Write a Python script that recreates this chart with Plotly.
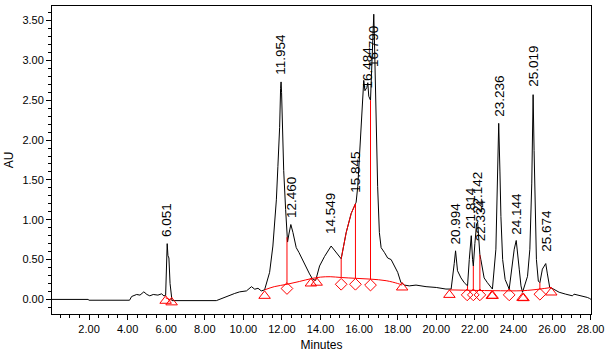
import plotly.graph_objects as go

# ---- chromatogram trace (minutes, AU) ----
trace_t = [0.08, 1.95, 2.0, 4.1, 4.21, 4.47, 4.64, 4.84, 5.0, 5.15, 5.33, 5.57, 5.76, 5.88, 5.97,
           6.02, 6.051, 6.09, 6.14, 6.2, 6.26, 6.3, 8.6, 9.03, 9.3, 9.55, 9.81, 10.16, 10.42,
           10.59, 10.76, 10.93, 11.1, 11.36, 11.53, 11.71, 11.79, 11.88, 11.93, 11.954, 11.98,
           12.02, 12.09, 12.19, 12.26, 12.29, 12.36, 12.46, 12.57, 12.74, 12.88, 13.09, 13.26,
           13.43, 13.6, 13.75, 13.95, 14.21, 14.549, 14.81, 15.07, 15.33, 15.59, 15.81, 15.845,
           15.93, 16.05, 16.16, 16.24, 16.3, 16.4, 16.45, 16.5, 16.59, 16.66, 16.72, 16.76,
           16.79, 16.82, 16.88, 16.96, 17.05, 17.14, 17.31, 17.48, 17.66, 17.83, 18.0, 18.17,
           18.35, 18.6, 18.95, 19.47, 20.0, 20.5, 20.77, 20.93, 21.0, 21.1, 21.28, 21.45, 21.62,
           21.71, 21.76, 21.814, 21.88, 21.92, 22.0, 22.09, 22.142, 22.2, 22.26, 22.31, 22.48,
           22.65, 22.91, 23.09, 23.16, 23.236, 23.3, 23.35, 23.44, 23.57, 23.78, 23.95, 24.04,
           24.144, 24.2, 24.3, 24.39, 24.47, 24.73, 24.85, 24.95, 25.019, 25.07, 25.12, 25.19,
           25.29, 25.37, 25.5, 25.674, 25.76, 25.88, 26.0, 26.37, 26.71, 27.06, 27.14, 27.57,
           27.83, 27.95, 28.02]
trace_au = [0.0, 0.0, -0.01, -0.01, 0.037, 0.062, 0.054, 0.095, 0.062, 0.045, 0.062, 0.054, 0.07, 0.045, 0.05,
            0.5, 0.70, 0.55, 0.52, 0.2, 0.0, -0.015, -0.015, 0.03, 0.05, 0.075, 0.095, 0.107, 0.16,
            0.128, 0.14, 0.107, 0.12, 0.34, 0.67, 1.25, 1.67, 2.16, 2.65, 2.73, 2.6,
            2.16, 1.62, 1.13, 0.8, 0.72, 0.82, 0.94, 0.84, 0.65, 0.59, 0.48, 0.40,
            0.32, 0.25, 0.24, 0.42, 0.54, 0.67, 0.59, 0.51, 0.84, 1.08, 1.2, 1.22,
            1.42, 2.0, 2.5, 2.75, 2.62, 2.66, 2.72, 2.55, 2.5, 3.0, 3.45, 3.58,
            3.3, 2.9, 2.08, 1.42, 0.84, 0.65, 0.59, 0.52, 0.50, 0.42, 0.34, 0.21,
            0.18, 0.17, 0.18, 0.16, 0.15, 0.13, 0.13, 0.45, 0.61, 0.36, 0.27, 0.21, 0.17,
            0.50, 0.69, 0.80, 0.50, 0.42, 0.7, 0.95, 0.97, 0.7, 0.56, 0.50, 0.27,
            0.21, 0.13, 0.63, 1.46, 2.21, 1.6, 1.04, 0.50, 0.25, 0.13, 0.50, 0.63,
            0.74, 0.63, 0.38, 0.17, 0.09, 0.29, 0.63, 1.46, 2.57, 1.87, 1.04, 0.50,
            0.23, 0.21, 0.38, 0.45, 0.32, 0.15, 0.14, 0.09, 0.066, 0.045, 0.066, 0.045,
            0.025, 0.012, 0.0]

# ---- integration baselines (red) ----
base1_t = [5.97, 6.28]
base1_au = [0.02, -0.01]
base2_t = [11.1, 11.6, 12.26, 12.9, 13.5, 14.0, 14.5, 15.07, 15.81, 16.59, 17.4, 18.0, 18.23]
base2_au = [0.12, 0.16, 0.19, 0.225, 0.26, 0.28, 0.285, 0.275, 0.265, 0.255, 0.235, 0.2, 0.18]
base3_t = [20.68, 22.9, 24.5, 25.37, 25.96]
base3_au = [0.12, 0.11, 0.11, 0.13, 0.15]

# ---- drop lines: time, baseline AU, signal AU ----
drop_t = [12.26, 15.07, 15.81, 16.59, 21.62, 21.92, 22.26, 23.78, 25.37]
drop_lo = [0.19, 0.275, 0.265, 0.255, 0.12, 0.115, 0.115, 0.11, 0.13]
drop_hi = [0.78, 0.51, 1.2, 2.5, 0.17, 0.42, 0.56, 0.13, 0.21]

# ---- red skimmed segment of the signal ----
skim_start, skim_end = 15.07, 15.81

# ---- peak start/end markers ----
tri_t = [5.97, 6.28, 11.1, 13.5, 13.8, 18.23, 20.68, 22.88, 22.92, 24.47, 24.52, 25.96]
tri_au = [-0.017, -0.037, 0.045, 0.2, 0.21, 0.15, 0.057, 0.045, 0.045, 0.02, 0.016, 0.087]
dia_t = [12.26, 15.07, 15.81, 16.59, 21.6, 21.92, 22.26, 23.78, 25.37]
dia_au = [0.137, 0.19, 0.19, 0.18, 0.057, 0.057, 0.057, 0.057, 0.065]

# ---- peak labels ----
peak_names = ["6.051", "11.954", "12.460", "14.549", "15.845", "16.484", "16.790", "20.994",
              "21.814", "22.142", "22.334", "23.236", "24.144", "25.019", "25.674"]
peak_t = [6.051, 11.954, 12.46, 14.549, 15.8, 16.45, 16.74, 20.994,
          21.8, 22.142, 22.334, 23.236, 24.144, 25.019, 25.674]
peak_label_au = [0.76, 2.79, 1.0, 0.79, 1.31, 2.62, 2.89, 0.67,
                 0.86, 1.06, 0.71, 2.27, 0.79, 2.64, 0.57]

RED = "#ff0000"
fig = go.Figure()

fig.add_trace(go.Scatter(x=trace_t, y=trace_au, mode="lines",
                         line=dict(color="black", width=1), hoverinfo="skip"))

skim_t = [t for t in trace_t if skim_start <= t <= skim_end]
skim_au = [a for t, a in zip(trace_t, trace_au) if skim_start <= t <= skim_end]
fig.add_trace(go.Scatter(x=skim_t, y=skim_au, mode="lines",
                         line=dict(color=RED, width=1)))

for bt, ba in [(base1_t, base1_au), (base2_t, base2_au), (base3_t, base3_au)]:
    fig.add_trace(go.Scatter(x=bt, y=ba, mode="lines", line=dict(color=RED, width=1, shape="spline")))

dx, dy = [], []
for t, lo, hi in zip(drop_t, drop_lo, drop_hi):
    dx += [t, t, None]
    dy += [lo, hi, None]
fig.add_trace(go.Scatter(x=dx, y=dy, mode="lines", line=dict(color=RED, width=1)))

fig.add_trace(go.Scatter(x=tri_t, y=tri_au, mode="markers",
                         marker=dict(symbol="triangle-up-open", size=10, color=RED,
                                     line=dict(width=1, color=RED))))
fig.add_trace(go.Scatter(x=dia_t, y=dia_au, mode="markers",
                         marker=dict(symbol="diamond-open", size=9, color=RED,
                                     line=dict(width=1, color=RED))))

for name, t, a in zip(peak_names, peak_t, peak_label_au):
    fig.add_annotation(x=t, y=a, text=name, textangle=-90, showarrow=False,
                       xanchor="center", yanchor="bottom",
                       font=dict(family="Liberation Sans, Arial", size=13.5, color="#000000"))

axis_font = dict(family="Liberation Sans, Arial", size=11, color="#000000")
fig.update_layout(
    width=609, height=355,
    margin=dict(l=52, r=17, t=5, b=40),
    paper_bgcolor="white", plot_bgcolor="white",
    showlegend=False,
    xaxis=dict(range=[0.08, 28.02], tick0=0, dtick=2, tickformat=".2f",
               showgrid=False, zeroline=False, showline=True, mirror=True,
               linecolor="black", linewidth=1, ticks="outside", ticklen=5,
               tickcolor="black", tickfont=axis_font,
               minor=dict(dtick=0.5, ticks="outside", ticklen=3, tickcolor="black", showgrid=False),
               title=dict(text="Minutes", font=dict(family="Liberation Sans, Arial", size=12, color="#000000"),
                          standoff=6)),
    yaxis=dict(range=[-0.183, 3.683], tick0=0, dtick=0.5, tickformat=".2f",
               showgrid=False, zeroline=False, showline=True, mirror=True,
               linecolor="black", linewidth=1, ticks="outside", ticklen=5,
               tickcolor="black", tickfont=axis_font,
               minor=dict(dtick=0.1, ticks="outside", ticklen=3, tickcolor="black", showgrid=False),
               title=dict(text="AU", font=dict(family="Liberation Sans, Arial", size=12, color="#000000"),
                          standoff=6)),
)

fig.write_html("out.html", config={"displayModeBar": False},
               post_script="document.body.style.margin='0';document.body.style.overflow='hidden';")
